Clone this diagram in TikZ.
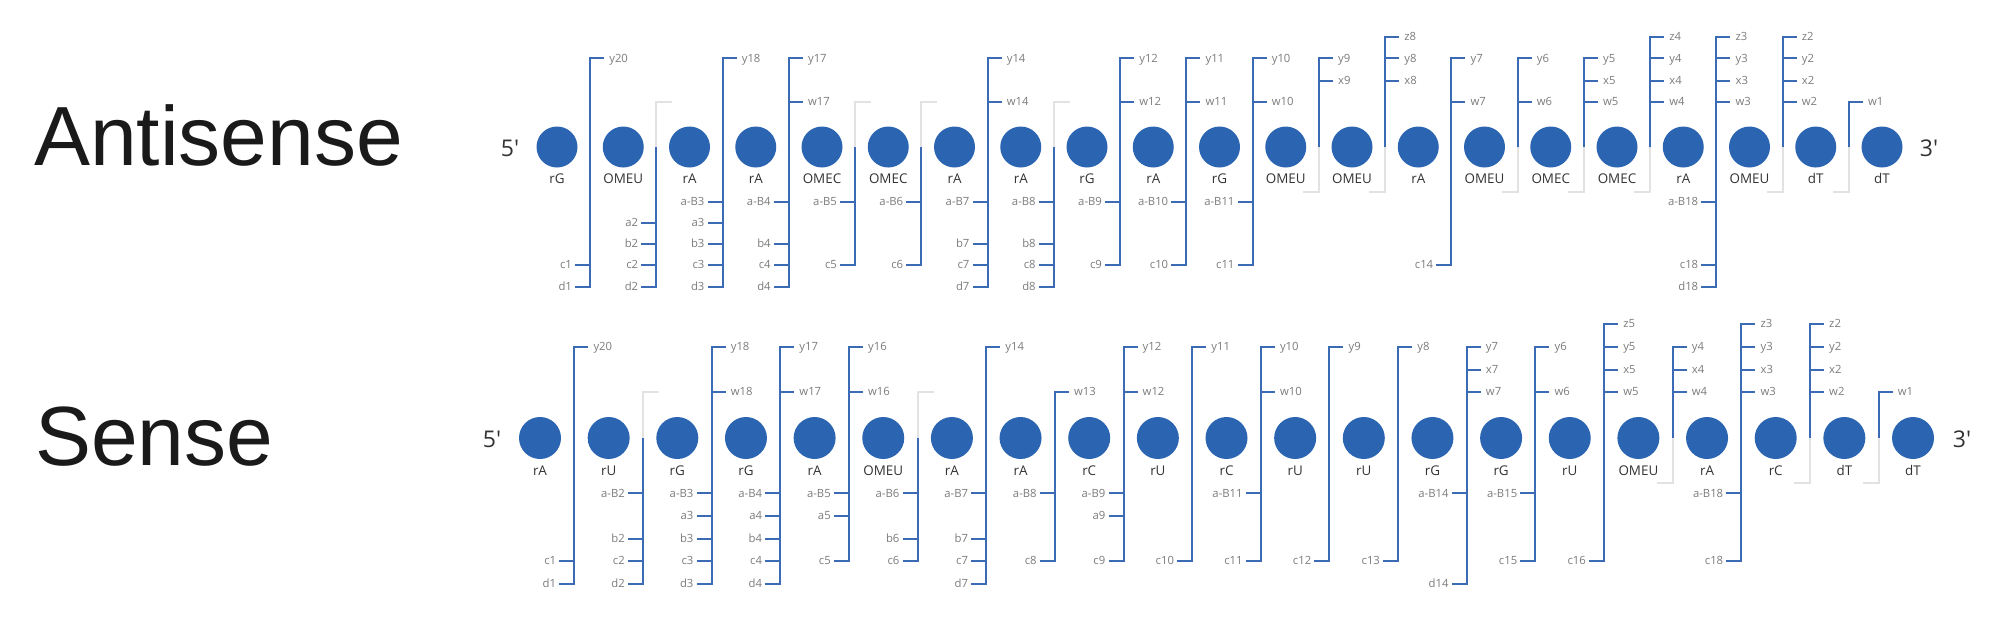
\documentclass[tikz,border=0pt]{standalone}
\usepackage{fontspec}
\setmainfont{Open Sans}
\newfontfamily\bigsans{Liberation Sans}
\font\primefnt="Open Sans" at 23pt
\definecolor{dot}{HTML}{2B65B2}
\definecolor{brk}{HTML}{3A6BB4}
\definecolor{lbl}{HTML}{7C7C7C}
\definecolor{faint}{HTML}{E2E2E2}
\definecolor{nuc}{HTML}{333333}
\definecolor{ttl}{HTML}{1A1A1A}

\newcommand\setA{\def\rowname{A}\def\xo{557}\def\ddx{66.25}\def\cy{147}\def\dotd{41pt}\def\lbloff{36pt}%
 \def\lvz{36.7}\def\lvy{58.3}\def\lvx{80.5}\def\lvw{101.8}\def\lvaB{201.7}\def\lva{222.5}\def\lvb{243.5}\def\lvc{265}\def\lvd{287}\def\lvgu{101.8}\def\lvgl{191.7}}
\newcommand\setS{\def\rowname{S}\def\xo{540}\def\ddx{68.65}\def\cy{438}\def\dotd{42pt}\def\lbloff{37pt}%
 \def\lvz{324}\def\lvy{346.7}\def\lvx{369.5}\def\lvw{392}\def\lvaB{493.3}\def\lva{516}\def\lvb{538.7}\def\lvc{560.7}\def\lvd{584}\def\lvgu{392}\def\lvgl{482.7}}

\newcommand\brup[2]{%
  \pgfmathsetmacro\gx{\xo+\ddx*(#1-0.5)}%
  \coordinate (\rowname g#1) at (\gx,\cy);%
  \foreach \lv/\tx [count=\k] in {#2}{%
    \edef\yy{\csname lv\lv\endcsname}%
    \node[smalllbl,anchor=west] (\rowname g#1u\k) at (\gx+19,\yy) {\tx};%
    \draw[brkline] (\rowname g#1) |- ([xshift=-5pt]\rowname g#1u\k.west);%
  }%
}
\newcommand\brlo[2]{%
  \pgfmathsetmacro\gx{\xo+\ddx*(#1-0.5)}%
  \coordinate (\rowname g#1) at (\gx,\cy);%
  \foreach \lv/\tx [count=\k] in {#2}{%
    \edef\yy{\csname lv\lv\endcsname}%
    \node[smalllbl,anchor=east] (\rowname g#1l\k) at (\gx-18,\yy) {\tx};%
    \draw[brkline] (\rowname g#1) |- ([xshift=3pt]\rowname g#1l\k.east);%
  }%
}
\newcommand\grup[1]{%
  \pgfmathsetmacro\gx{\xo+\ddx*(#1-0.5)}%
  \coordinate (\rowname g#1) at (\gx,\cy);%
  \coordinate (\rowname g#1gu) at (\gx+16,\lvgu);%
  \draw[faintline] (\rowname g#1) |- (\rowname g#1gu);%
}
\newcommand\grlo[1]{%
  \pgfmathsetmacro\gx{\xo+\ddx*(#1-0.5)}%
  \coordinate (\rowname g#1) at (\gx,\cy);%
  \coordinate (\rowname g#1gl) at (\gx-16,\lvgl);%
  \draw[faintline] (\rowname g#1) |- (\rowname g#1gl);%
}
\newcommand\drawdots[1]{%
  \foreach \nm [count=\i] in {#1}{%
    \pgfmathsetmacro\cx{\xo+\ddx*(\i-1)}%
    \node[dotc,minimum size=\dotd] (\rowname n\i) at (\cx,\cy) {};%
    \node[nuclbl] (\rowname t\i) at ([yshift=-\lbloff]\rowname n\i.center) {\nm};%
  }%
}

\begin{document}
\begin{tikzpicture}[x=1pt,y=-1pt,
  dotc/.style={circle,fill=dot,inner sep=0},
  nuclbl/.style={font=\fontsize{13.4}{15}\selectfont,text=nuc,inner sep=0,anchor=base},
  smalllbl/.style={font=\fontsize{11.3}{13}\selectfont,text=lbl,inner sep=0,text height=7.6pt,text depth=0pt},
  brkline/.style={draw=brk,line width=2pt},
  faintline/.style={draw=faint,line width=2pt},
  endlbl/.style={font=\primefnt,text=nuc,inner sep=0},
  rowtitle/.style={font=\bigsans\fontsize{84}{96}\selectfont,text=ttl,inner sep=0,anchor=base west}]
\useasboundingbox (0,0) rectangle (2000,630);
\fill[white] (0,0) rectangle (2000,630);

\node[rowtitle] (titleA) at (34,165) {Antisense};
\node[rowtitle] (titleS) at (35,465) {Sense};

% ---------------- Antisense ----------------
\setA
\brup{1}{y/y20} \brlo{1}{c/c1,d/d1}
\grup{2} \brlo{2}{a/a2,b/b2,c/c2,d/d2}
\brup{3}{y/y18} \brlo{3}{aB/a-B3,a/a3,b/b3,c/c3,d/d3}
\brup{4}{y/y17,w/w17} \brlo{4}{aB/a-B4,b/b4,c/c4,d/d4}
\grup{5} \brlo{5}{aB/a-B5,c/c5}
\grup{6} \brlo{6}{aB/a-B6,c/c6}
\brup{7}{y/y14,w/w14} \brlo{7}{aB/a-B7,b/b7,c/c7,d/d7}
\grup{8} \brlo{8}{aB/a-B8,b/b8,c/c8,d/d8}
\brup{9}{y/y12,w/w12} \brlo{9}{aB/a-B9,c/c9}
\brup{10}{y/y11,w/w11} \brlo{10}{aB/a-B10,c/c10}
\brup{11}{y/y10,w/w10} \brlo{11}{aB/a-B11,c/c11}
\brup{12}{y/y9,x/x9} \grlo{12}
\brup{13}{z/z8,y/y8,x/x8} \grlo{13}
\brup{14}{y/y7,w/w7} \brlo{14}{c/c14}
\brup{15}{y/y6,w/w6} \grlo{15}
\brup{16}{y/y5,x/x5,w/w5} \grlo{16}
\brup{17}{z/z4,y/y4,x/x4,w/w4} \grlo{17}
\brup{18}{z/z3,y/y3,x/x3,w/w3} \brlo{18}{aB/a-B18,c/c18,d/d18}
\brup{19}{z/z2,y/y2,x/x2,w/w2} \grlo{19}
\brup{20}{w/w1} \grlo{20}
\drawdots{rG,OMEU,rA,rA,OMEC,OMEC,rA,rA,rG,rA,rG,OMEU,OMEU,rA,OMEU,OMEC,OMEC,rA,OMEU,dT,dT}
\node[endlbl] (A5) at (510,148) {5'};
\node[endlbl] (A3) at (1929,148) {3'};

% ---------------- Sense ----------------
\setS
\brup{1}{y/y20} \brlo{1}{c/c1,d/d1}
\grup{2} \brlo{2}{aB/a-B2,b/b2,c/c2,d/d2}
\brup{3}{y/y18,w/w18} \brlo{3}{aB/a-B3,a/a3,b/b3,c/c3,d/d3}
\brup{4}{y/y17,w/w17} \brlo{4}{aB/a-B4,a/a4,b/b4,c/c4,d/d4}
\brup{5}{y/y16,w/w16} \brlo{5}{aB/a-B5,a/a5,c/c5}
\grup{6} \brlo{6}{aB/a-B6,b/b6,c/c6}
\brup{7}{y/y14} \brlo{7}{aB/a-B7,b/b7,c/c7,d/d7}
\brup{8}{w/w13} \brlo{8}{aB/a-B8,c/c8}
\brup{9}{y/y12,w/w12} \brlo{9}{aB/a-B9,a/a9,c/c9}
\brup{10}{y/y11} \brlo{10}{c/c10}
\brup{11}{y/y10,w/w10} \brlo{11}{aB/a-B11,c/c11}
\brup{12}{y/y9} \brlo{12}{c/c12}
\brup{13}{y/y8} \brlo{13}{c/c13}
\brup{14}{y/y7,x/x7,w/w7} \brlo{14}{aB/a-B14,d/d14}
\brup{15}{y/y6,w/w6} \brlo{15}{aB/a-B15,c/c15}
\brup{16}{z/z5,y/y5,x/x5,w/w5} \brlo{16}{c/c16}
\brup{17}{y/y4,x/x4,w/w4} \grlo{17}
\brup{18}{z/z3,y/y3,x/x3,w/w3} \brlo{18}{aB/a-B18,c/c18}
\brup{19}{z/z2,y/y2,x/x2,w/w2} \grlo{19}
\brup{20}{w/w1} \grlo{20}
\drawdots{rA,rU,rG,rG,rA,OMEU,rA,rA,rC,rU,rC,rU,rU,rG,rG,rU,OMEU,rA,rC,dT,dT}
\node[endlbl] (S5) at (492,439) {5'};
\node[endlbl] (S3) at (1962,439) {3'};
\end{tikzpicture}
\end{document}
